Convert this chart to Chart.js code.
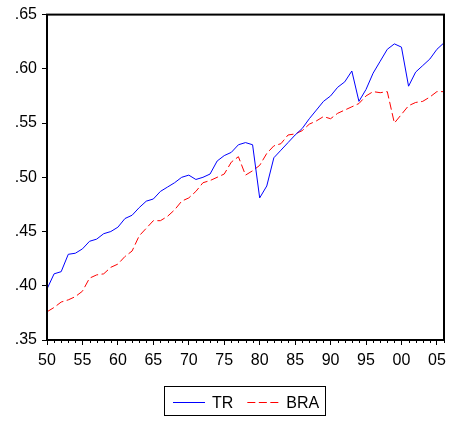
<!DOCTYPE html>
<html>
<head>
<meta charset="utf-8">
<script src="https://cdn.jsdelivr.net/npm/chart.js@4/dist/chart.umd.min.js"></script>
<style>
html, body { margin: 0; padding: 0; background: #fff; }
#chart { display: block; }
</style>
</head>
<body>
<canvas id="chart" width="450" height="423"></canvas>
<script>
var years = ['1950','1951','1952','1953','1954','1955','1956','1957','1958','1959',
             '1960','1961','1962','1963','1964','1965','1966','1967','1968','1969',
             '1970','1971','1972','1973','1974','1975','1976','1977','1978','1979',
             '1980','1981','1982','1983','1984','1985','1986','1987','1988','1989',
             '1990','1991','1992','1993','1994','1995','1996','1997','1998','1999',
             '2000','2001','2002','2003','2004','2005','2006'];

var trValues = [0.397, 0.411, 0.413, 0.429, 0.430, 0.434, 0.441, 0.443, 0.448, 0.450,
                0.454, 0.462, 0.465, 0.472, 0.478, 0.480, 0.487, 0.491, 0.495, 0.500,
                0.502, 0.498, 0.500, 0.503, 0.515, 0.520, 0.523, 0.530, 0.532, 0.530,
                0.481, 0.492, 0.518, 0.525, 0.532, 0.539, 0.545, 0.554, 0.562, 0.570,
                0.575, 0.583, 0.588, 0.598, 0.570, 0.581, 0.596, 0.607, 0.618, 0.623,
                0.620, 0.584, 0.597, 0.603, 0.609, 0.618, 0.624];

var braValues = [0.376, 0.380, 0.385, 0.387, 0.390, 0.395, 0.407, 0.410, 0.411, 0.417,
                 0.420, 0.427, 0.432, 0.446, 0.453, 0.460, 0.460, 0.464, 0.470, 0.478,
                 0.481, 0.487, 0.495, 0.497, 0.500, 0.503, 0.514, 0.519, 0.502, 0.506,
                 0.511, 0.522, 0.529, 0.531, 0.539, 0.540, 0.543, 0.549, 0.552, 0.556,
                 0.554, 0.559, 0.562, 0.565, 0.568, 0.575, 0.579, 0.578, 0.579, 0.550,
                 0.558, 0.566, 0.569, 0.570, 0.574, 0.579, 0.579];

var yMin = 0.35, yMax = 0.65, yStep = 0.05;

var FONT = { family: '"Liberation Sans", Arial, sans-serif', size: 16 };

// box around the plot, short yearly ticks and the boxed legend under the axis
var framePlugin = {
    id: 'frame',
    afterDraw: function(chart) {
        var ctx = chart.ctx, a = chart.chartArea, xs = chart.scales.x;
        ctx.save();
        ctx.strokeStyle = '#000';
        ctx.lineWidth = 2;
        ctx.strokeRect(a.left, a.top, a.right - a.left, a.bottom - a.top);

        ctx.lineWidth = 1;
        for (var i = 0; i < years.length; i++) {
            if (i % 5 === 0) continue;
            var px = Math.round(xs.getPixelForValue(i)) + 0.5;
            ctx.beginPath();
            ctx.moveTo(px, a.bottom);
            ctx.lineTo(px, a.bottom + 3);
            ctx.stroke();
        }

        // legend
        ctx.strokeStyle = '#000';
        ctx.lineWidth = 1;
        ctx.strokeRect(164.5, 386.5, 161, 29);
        ctx.font = FONT.size + 'px ' + FONT.family;
        ctx.textBaseline = 'middle';
        ctx.fillStyle = '#000';
        var lx = 173, ly = 402.5;
        chart.data.datasets.forEach(function(ds) {
            ctx.beginPath();
            ctx.strokeStyle = ds.borderColor;
            ctx.setLineDash(ds.borderDash || []);
            ctx.moveTo(lx, ly);
            ctx.lineTo(lx + 32, ly);
            ctx.stroke();
            ctx.setLineDash([]);
            ctx.fillText(ds.label, lx + 39, ly + 1);
            lx += 39 + ctx.measureText(ds.label).width + 14;
        });
        ctx.restore();
    }
};

new Chart(document.getElementById('chart'), {
    type: 'line',
    data: {
        labels: years,
        datasets: [
            {
                label: 'TR',
                data: trValues,
                borderColor: '#0000FF',
                borderWidth: 1,
                borderDash: [],
                pointRadius: 0,
                tension: 0,
                fill: false
            },
            {
                label: 'BRA',
                data: braValues,
                borderColor: '#FF0000',
                borderWidth: 1,
                borderDash: [8, 3.5],
                pointRadius: 0,
                tension: 0,
                fill: false
            }
        ]
    },
    options: {
        responsive: false,
        animation: false,
        layout: { padding: { left: 0, right: 5, top: 11, bottom: 0 } },
        plugins: {
            legend: { display: false },
            tooltip: { enabled: false }
        },
        scales: {
            x: {
                type: 'category',
                offset: false,
                grid: {
                    offset: false,
                    drawOnChartArea: false,
                    tickLength: 5,
                    tickWidth: 1,
                    tickColor: function(c) { return c.index % 5 === 0 ? '#000' : 'rgba(0,0,0,0)'; }
                },
                border: { display: false },
                ticks: {
                    autoSkip: false,
                    maxRotation: 0,
                    padding: 6,
                    color: '#000',
                    font: FONT,
                    callback: function(v, i) { return i % 5 === 0 ? years[i].slice(2) : ''; }
                },
                afterFit: function(s) { s.height = 83; }
            },
            y: {
                min: yMin,
                max: yMax,
                grid: {
                    drawOnChartArea: false,
                    tickLength: 5,
                    tickColor: '#000'
                },
                border: { display: false },
                ticks: {
                    stepSize: yStep,
                    padding: 5,
                    color: '#000',
                    font: FONT,
                    callback: function(v) { return v.toFixed(2).replace(/^0/, ''); }
                },
                afterFit: function(s) { s.width = 47; }
            }
        }
    },
    plugins: [framePlugin]
});
</script>
</body>
</html>
